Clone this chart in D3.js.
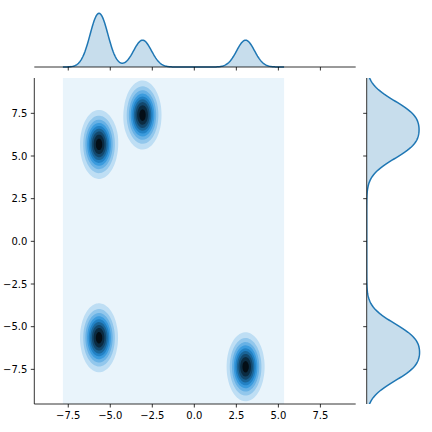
<!DOCTYPE html>
<html>
<head>
<meta charset="utf-8">
<script src="https://cdn.jsdelivr.net/npm/d3@7"></script>
<style>
  html, body { margin: 0; padding: 0; background: #fff; }
  svg { display: block; }
  text { font-family: "DejaVu Sans", sans-serif; font-size: 10px; fill: #000; }
</style>
</head>
<body>
<script>
// ---- data ----
const clusterX = [-5.67, -3.08, -5.67, 3.05];
const clusterY = [5.68, 7.4, -5.65, -7.35];
const clusterW = [1, 1, 1, 1];
const bandwidthX = 0.53;
const bandwidthY = 0.95;
const gridXRange = [-7.82, 5.34];
const gridYRange = [-10.8, 10.8];
const xTicks = [-7.5, -5.0, -2.5, 0.0, 2.5, 5.0, 7.5];
const yTicks = [-7.5, -5.0, -2.5, 0.0, 2.5, 5.0, 7.5];
const xDomain = [-9.52, 9.6];
const yDomain = [-9.53, 9.57];
const nLevels = 10;

// ---- layout ----
const W = 432, H = 432;
const joint = {left: 34.3, right: 355.7, top: 78, bottom: 404};
const margX = {left: 34.3, right: 355.7, top: 10.6, bottom: 67};
const margY = {left: 366.7, right: 422.2, top: 78, bottom: 404};
const C0 = "#1f77b4";
const hls = d3.hsl(C0);
const cmap = t => d3.hsl(hls.h, hls.s, 1 - t).formatRgb();

const svg = d3.select("body").append("svg").attr("width", W).attr("height", H);

const x = d3.scaleLinear().domain(xDomain).range([joint.left, joint.right]);
const y = d3.scaleLinear().domain(yDomain).range([joint.bottom, joint.top]);

function gauss(v, m, s) { return Math.exp(-0.5 * ((v - m) / s) ** 2) / (s * Math.sqrt(2 * Math.PI)); }
function dens2(px, py) {
  let s = 0;
  for (let i = 0; i < clusterX.length; i++) s += clusterW[i] * gauss(px, clusterX[i], bandwidthX) * gauss(py, clusterY[i], bandwidthY);
  return s / d3.sum(clusterW);
}
function densX(px) { let s = 0; clusterX.forEach((c, i) => s += clusterW[i] * gauss(px, c, bandwidthX)); return s / d3.sum(clusterW); }
function densY(py) { let s = 0; clusterY.forEach((c, i) => s += clusterW[i] * gauss(py, c, bandwidthY)); return s / d3.sum(clusterW); }

// clip
const defs = svg.append("defs");
defs.append("clipPath").attr("id", "clipJ").append("rect")
  .attr("x", joint.left).attr("y", joint.top)
  .attr("width", joint.right - joint.left).attr("height", joint.bottom - joint.top);
defs.append("clipPath").attr("id", "clipMY").append("rect")
  .attr("x", margY.left).attr("y", margY.top)
  .attr("width", margY.right - margY.left + 10).attr("height", margY.bottom - margY.top);

// ---- joint KDE ----
const nx = 120, ny = 200;
const dx = (gridXRange[1] - gridXRange[0]) / (nx - 1);
const dy = (gridYRange[1] - gridYRange[0]) / (ny - 1);
const values = new Array(nx * ny);
for (let j = 0; j < ny; j++) for (let i = 0; i < nx; i++)
  values[i + j * nx] = dens2(gridXRange[0] + i * dx, gridYRange[0] + j * dy);
const zmax = d3.max(values);
const topLevel = zmax * 1.04;
const levels = d3.range(0, nLevels + 1).map(k => topLevel * k / nLevels);

const gJ = svg.append("g").attr("clip-path", "url(#clipJ)");
// lowest band covers the full grid
gJ.append("rect")
  .attr("x", x(gridXRange[0])).attr("y", y(gridYRange[1]))
  .attr("width", x(gridXRange[1]) - x(gridXRange[0]))
  .attr("height", y(gridYRange[0]) - y(gridYRange[1]))
  .attr("fill", cmap(0.5 / nLevels));

const contours = d3.contours().size([nx, ny]).thresholds(levels.slice(1, -1))(values);
const proj = d3.geoTransform({
  point: function(gx, gy) {
    const gxx = Math.max(0, Math.min(nx - 1, gx - 0.5));
    const gyy = Math.max(0, Math.min(ny - 1, gy - 0.5));
    this.stream.point(x(gridXRange[0] + gxx * dx), y(gridYRange[0] + gyy * dy));
  }
});
const path = d3.geoPath(proj);
gJ.selectAll("path.band").data(contours).join("path")
  .attr("class", "band")
  .attr("d", path)
  .attr("fill", (d, k) => cmap((k + 1.5) / nLevels));

// joint axes
const axJ = svg.append("g");
axJ.append("line").attr("x1", joint.left).attr("x2", joint.left).attr("y1", joint.top).attr("y2", joint.bottom)
  .attr("stroke", "#000").attr("stroke-width", 0.8);
axJ.append("line").attr("x1", joint.left).attr("x2", joint.right).attr("y1", joint.bottom).attr("y2", joint.bottom)
  .attr("stroke", "#000").attr("stroke-width", 0.8);
const fmt = v => d3.format(".1f")(v).replace("-", "\u2212");
xTicks.forEach(t => {
  axJ.append("line").attr("x1", x(t)).attr("x2", x(t)).attr("y1", joint.bottom).attr("y2", joint.bottom + 3.5)
    .attr("stroke", "#000").attr("stroke-width", 0.8);
  axJ.append("text").attr("x", x(t)).attr("y", joint.bottom + 7).attr("dy", "0.76em")
    .attr("text-anchor", "middle").text(fmt(t));
});
yTicks.forEach(t => {
  axJ.append("line").attr("x1", joint.left - 3.5).attr("x2", joint.left).attr("y1", y(t)).attr("y2", y(t))
    .attr("stroke", "#000").attr("stroke-width", 0.8);
  axJ.append("text").attr("x", joint.left - 7).attr("y", y(t)).attr("dy", "0.36em")
    .attr("text-anchor", "end").text(fmt(t));
});

// ---- top marginal ----
const xs = d3.range(0, 301).map(k => gridXRange[0] + k * (gridXRange[1] - gridXRange[0]) / 300);
const fx = xs.map(densX);
const myX = d3.scaleLinear().domain([0, d3.max(fx) * 1.05]).range([margX.bottom, margX.top]);
const ptsX = xs.map((v, i) => [v, fx[i]]);
const gMX = svg.append("g");
gMX.append("path").datum(ptsX)
  .attr("d", d3.area().x(d => x(d[0])).y0(myX(0)).y1(d => myX(d[1])))
  .attr("fill", C0).attr("fill-opacity", 0.25);
gMX.append("path").datum(ptsX)
  .attr("d", d3.line().x(d => x(d[0])).y(d => myX(d[1])))
  .attr("fill", "none").attr("stroke", C0).attr("stroke-width", 1.5);
gMX.append("line").attr("x1", margX.left).attr("x2", margX.right).attr("y1", margX.bottom).attr("y2", margX.bottom)
  .attr("stroke", "#000").attr("stroke-width", 0.8);
xTicks.forEach(t => gMX.append("line").attr("x1", x(t)).attr("x2", x(t))
  .attr("y1", margX.bottom).attr("y2", margX.bottom + 3.5).attr("stroke", "#000").attr("stroke-width", 0.8));

// ---- right marginal ----
const ys = d3.range(0, 301).map(k => gridYRange[0] + k * (gridYRange[1] - gridYRange[0]) / 300);
const fy = ys.map(densY);
const mxY = d3.scaleLinear().domain([0, d3.max(fy) * 1.05]).range([margY.left, margY.right]);
const ptsY = ys.map((v, i) => [v, fy[i]]);
const gMY = svg.append("g");
const gMYc = gMY.append("g").attr("clip-path", "url(#clipMY)");
gMYc.append("path").datum(ptsY)
  .attr("d", d3.area().y(d => y(d[0])).x0(mxY(0)).x1(d => mxY(d[1])))
  .attr("fill", C0).attr("fill-opacity", 0.25);
gMYc.append("path").datum(ptsY)
  .attr("d", d3.line().y(d => y(d[0])).x(d => mxY(d[1])))
  .attr("fill", "none").attr("stroke", C0).attr("stroke-width", 1.5);
gMY.append("line").attr("x1", margY.left).attr("x2", margY.left).attr("y1", margY.top).attr("y2", margY.bottom)
  .attr("stroke", "#000").attr("stroke-width", 0.8);
yTicks.forEach(t => gMY.append("line").attr("x1", margY.left - 3.5).attr("x2", margY.left)
  .attr("y1", y(t)).attr("y2", y(t)).attr("stroke", "#000").attr("stroke-width", 0.8));
</script>
</body>
</html>
